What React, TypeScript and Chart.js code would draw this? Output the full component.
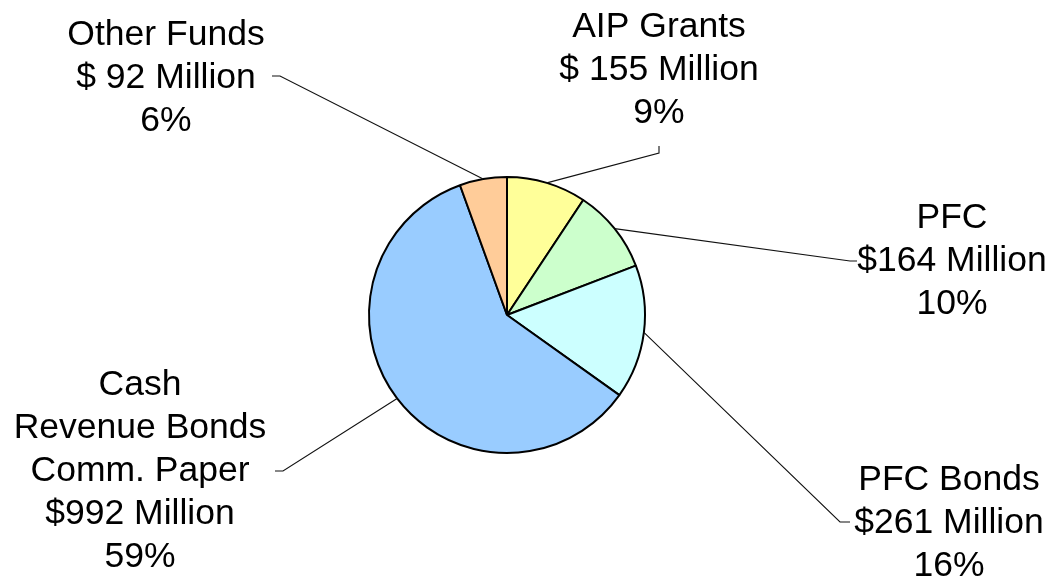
import React, { useEffect, useRef } from "react";
import { Chart, registerables } from "chart.js";

Chart.register(...registerables);

// ---- data ----
const CATEGORIES = ["AIP Grants", "PFC", "PFC Bonds", "Cash\nRevenue Bonds\nComm. Paper", "Other Funds"];
const VALUES = [155, 164, 261, 992, 92];
const AMOUNT_LABELS = ["$ 155 Million", "$164 Million", "$261 Million", "$992 Million", "$ 92 Million"];
const PERCENT_LABELS = ["9%", "10%", "16%", "59%", "6%"];
const COLORS = ["#FFFF99", "#CCFFCC", "#CCFFFF", "#99CCFF", "#FFCC99"];

// ---- label layout (offsets from pie centre, px) ----
const LABEL_LAYOUT = [
  { knee: [152, -162], tip: [152, -169], cx: 152, top: -278 },
  { knee: [343, -54], tip: [350, -54], cx: 445, top: -87 },
  { knee: [333, 207], tip: [343, 207], cx: 442, top: 175 },
  { knee: [-224, 156], tip: [-232, 156], cx: -367, top: 80 },
  { knee: [-227, -239], tip: [-235, -239], cx: -341, top: -270 },
];

const FONT = '35.5px "Liberation Sans", Arial, sans-serif';
const LINE_H = 43;

const labelPlugin = {
  id: "leaderLabels",
  afterDatasetsDraw(chart: any) {
    const ctx = chart.ctx;
    const meta = chart.getDatasetMeta(0);
    ctx.save();
    meta.data.forEach((arc: any, i: number) => {
      const p = arc.getProps(["x", "y", "startAngle", "endAngle", "outerRadius"], true);
      const mid = (p.startAngle + p.endAngle) / 2;
      const ex = p.x + Math.cos(mid) * p.outerRadius;
      const ey = p.y + Math.sin(mid) * p.outerRadius;
      const L = LABEL_LAYOUT[i];
      ctx.strokeStyle = "#111";
      ctx.lineWidth = 1.1;
      ctx.beginPath();
      ctx.moveTo(ex, ey);
      ctx.lineTo(p.x + L.knee[0], p.y + L.knee[1]);
      ctx.lineTo(p.x + L.tip[0], p.y + L.tip[1]);
      ctx.stroke();
      const lines = [...CATEGORIES[i].split("\n"), AMOUNT_LABELS[i], PERCENT_LABELS[i]];
      ctx.fillStyle = "#000";
      ctx.font = FONT;
      ctx.textAlign = "center";
      ctx.textBaseline = "alphabetic";
      lines.forEach((t, k) => {
        ctx.fillText(t, p.x + L.cx, p.y + L.top + k * LINE_H);
      });
    });
    ctx.restore();
  },
};

export default function App() {
  const ref = useRef<HTMLCanvasElement | null>(null);
  useEffect(() => {
    document.body.style.margin = "0";
    const chart = new Chart(ref.current as HTMLCanvasElement, {
      type: "pie",
      data: {
        labels: CATEGORIES,
        datasets: [
          {
            data: VALUES,
            backgroundColor: COLORS,
            borderColor: "#000",
            borderWidth: 2,
          },
        ],
      },
      options: {
        responsive: false,
        animation: false,
        radius: 138,
        layout: { padding: { left: 0, right: 45, top: 52, bottom: 0 } },
        plugins: { legend: { display: false }, tooltip: { enabled: false } },
      } as any,
      plugins: [labelPlugin],
    });
    return () => chart.destroy();
  }, []);
  return <canvas ref={ref} width={1059} height={578} style={{ display: "block" }} />;
}
